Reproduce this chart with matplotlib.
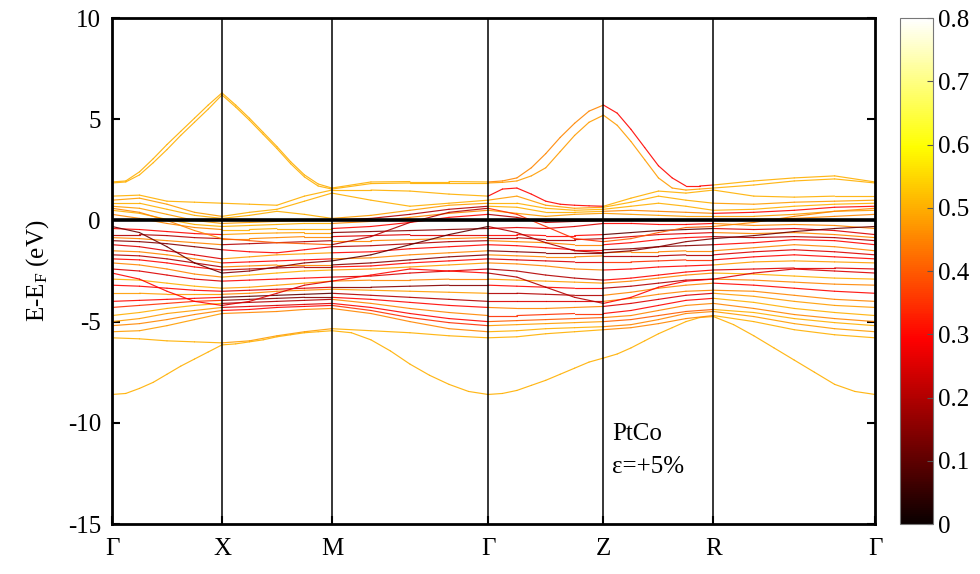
import numpy as np
import matplotlib
matplotlib.use("Agg")
import matplotlib.pyplot as plt
from matplotlib.collections import LineCollection
from matplotlib.colors import Normalize

plt.rcParams['font.family'] = ['Liberation Serif', 'DejaVu Serif']
plt.rcParams['mathtext.fontset'] = 'custom'
plt.rcParams['mathtext.rm'] = 'Liberation Serif'
plt.rcParams['mathtext.it'] = 'Liberation Serif:italic'
plt.rcParams['axes.unicode_minus'] = False

# high-symmetry path (cumulative path length) and labels
kpoint_pos = [0.0, 1.0, 2.0, 3.42, 4.47, 5.47, 6.94]
kpoint_labels = ['Γ', 'X', 'M', 'Γ', 'Z', 'R', 'Γ']

# band energies (eV, relative to E_F) sampled along each path segment
gamma_x = [
    [-8.6, -8.55, -8.3, -8.0, -7.6, -7.2, -6.85, -6.5, -6.15],
    [-5.8, -5.85, -5.95, -6.0, -6.05],
    [-5.5, -5.45, -5.2, -4.9, -4.6],
    [-5.2, -5.1, -4.9, -4.65, -4.45],
    [-5.0, -4.85, -4.6, -4.45, -4.3],
    [-4.7, -4.55, -4.35, -4.2, -4.1],
    [-4.3, -4.2, -4.1, -4.0, -3.95],
    [-4.0, -3.95, -3.9, -3.85, -3.8],
    [-3.6, -3.6, -3.65, -3.65, -3.65],
    [-3.2, -3.25, -3.35, -3.45, -3.5],
    [-2.9, -2.95, -3.1, -3.25, -3.35],
    [-2.4, -2.5, -2.7, -2.9, -3.0],
    [-2.1, -2.2, -2.4, -2.65, -2.8],
    [-1.9, -1.95, -2.1, -2.3, -2.45],
    [-1.7, -1.75, -1.9, -2.1, -2.3],
    [-1.5, -1.55, -1.7, -1.9, -2.1],
    [-1.2, -1.3, -1.5, -1.7, -1.9],
    [-1.0, -1.05, -1.15, -1.3, -1.45],
    [-0.85, -0.9, -1.0, -1.1, -1.2],
    [-0.7, -0.7, -0.75, -0.85, -0.9],
    [-0.4, -0.45, -0.55, -0.65, -0.7],
    [0.3, 0.1, -0.15, -0.35, -0.45],
    [0.5, 0.35, 0.05, -0.2, -0.3],
    [0.7, 0.6, 0.3, 0.0, -0.15],
    [0.85, 0.85, 0.55, 0.25, 0.1],
    [1.0, 1.1, 0.8, 0.4, 0.2],
    [1.2, 1.25, 0.95, 0.9, 0.85],
    [1.85, 1.9, 2.25, 2.85, 3.5, 4.2, 4.85, 5.5, 6.2],
    [1.9, 1.95, 2.4, 3.05, 3.75, 4.4, 5.05, 5.7, 6.3],
    [-0.3, -0.6, -1.3, -2.1, -2.6],
    [-2.6, -2.9, -3.5, -4.0, -4.2],
    [0.6, 0.4, 0.0, -0.5, -0.9],
]
x_m = [
    [-6.15, -6.1, -6.0, -5.9, -5.75, -5.65, -5.55, -5.5, -5.45],
    [-6.05, -5.95, -5.7, -5.5, -5.35],
    [-4.6, -4.55, -4.5, -4.4, -4.35],
    [-4.45, -4.4, -4.3, -4.25, -4.2],
    [-4.3, -4.25, -4.2, -4.15, -4.1],
    [-4.1, -4.05, -4.0, -3.95, -3.9],
    [-3.95, -3.9, -3.85, -3.8, -3.8],
    [-3.8, -3.75, -3.7, -3.65, -3.6],
    [-3.65, -3.6, -3.5, -3.45, -3.4],
    [-3.5, -3.45, -3.4, -3.35, -3.3],
    [-3.35, -3.3, -3.2, -3.1, -3.0],
    [-3.0, -2.95, -2.9, -2.85, -2.8],
    [-2.8, -2.7, -2.6, -2.5, -2.45],
    [-2.45, -2.4, -2.35, -2.3, -2.3],
    [-2.3, -2.25, -2.2, -2.2, -2.2],
    [-2.1, -2.05, -2.0, -1.95, -1.9],
    [-1.9, -1.8, -1.7, -1.65, -1.6],
    [-1.45, -1.55, -1.6, -1.45, -1.3],
    [-1.2, -1.15, -1.1, -1.05, -1.0],
    [-0.9, -0.9, -0.85, -0.8, -0.8],
    [-0.7, -0.65, -0.62, -0.6, -0.6],
    [-0.45, -0.45, -0.4, -0.4, -0.4],
    [-0.3, -0.25, -0.2, -0.15, -0.15],
    [-0.15, -0.1, -0.05, 0.0, 0.0],
    [0.1, 0.25, 0.45, 0.3, 0.1],
    [0.2, 0.4, 0.55, 0.95, 1.35],
    [0.85, 0.8, 0.75, 1.2, 1.5],
    [6.2, 5.6, 4.95, 4.25, 3.55, 2.8, 2.15, 1.7, 1.55],
    [6.3, 5.7, 5.05, 4.35, 3.65, 2.9, 2.25, 1.8, 1.6],
    [-2.6, -2.5, -2.3, -2.1, -2.0],
    [-4.2, -4.0, -3.6, -3.2, -3.0],
    [-0.9, -1.0, -1.1, -1.15, -1.2],
]
m_gamma = [
    [-5.45, -5.55, -5.9, -6.45, -7.1, -7.65, -8.1, -8.45, -8.6],
    [-5.35, -5.45, -5.55, -5.7, -5.8],
    [-4.35, -4.6, -5.0, -5.35, -5.5],
    [-4.2, -4.45, -4.8, -5.05, -5.2],
    [-4.1, -4.3, -4.6, -4.85, -5.0],
    [-3.9, -4.1, -4.35, -4.55, -4.7],
    [-3.8, -3.9, -4.05, -4.2, -4.3],
    [-3.6, -3.7, -3.8, -3.9, -4.0],
    [-3.4, -3.45, -3.5, -3.55, -3.6],
    [-3.3, -3.3, -3.25, -3.2, -3.2],
    [-3.0, -2.95, -2.95, -2.9, -2.9],
    [-2.8, -2.75, -2.6, -2.5, -2.4],
    [-2.45, -2.4, -2.3, -2.2, -2.1],
    [-2.3, -2.25, -2.1, -2.0, -1.9],
    [-2.2, -2.1, -1.95, -1.8, -1.7],
    [-1.9, -1.85, -1.7, -1.6, -1.5],
    [-1.6, -1.55, -1.4, -1.3, -1.2],
    [-1.3, -1.25, -1.15, -1.05, -1.0],
    [-1.0, -1.0, -0.95, -0.9, -0.85],
    [-0.8, -0.75, -0.7, -0.7, -0.7],
    [-0.6, -0.55, -0.5, -0.45, -0.4],
    [-0.4, -0.3, -0.1, 0.15, 0.3],
    [-0.15, -0.05, 0.15, 0.35, 0.5],
    [0.0, 0.1, 0.3, 0.55, 0.7],
    [0.1, 0.25, 0.5, 0.75, 0.85],
    [1.35, 1.0, 0.7, 0.85, 1.0],
    [1.5, 1.5, 1.45, 1.3, 1.2],
    [1.55, 1.82, 1.85, 1.85, 1.85],
    [1.6, 1.9, 1.92, 1.92, 1.9],
    [-2.0, -1.7, -1.2, -0.7, -0.3],
    [-3.0, -2.7, -2.4, -2.5, -2.6],
    [-1.2, -0.8, -0.1, 0.4, 0.6],
]
gamma_z = [
    [-8.6, -8.55, -8.4, -8.15, -7.9, -7.6, -7.3, -7.0, -6.8],
    [-5.8, -5.75, -5.6, -5.5, -5.4],
    [-5.5, -5.45, -5.35, -5.3, -5.25],
    [-5.2, -5.15, -5.1, -5.05, -5.0],
    [-5.0, -4.95, -4.9, -4.85, -4.8],
    [-4.7, -4.7, -4.65, -4.6, -4.6],
    [-4.3, -4.35, -4.35, -4.3, -4.25],
    [-4.0, -4.0, -4.0, -4.0, -4.0],
    [-3.6, -3.6, -3.65, -3.7, -3.7],
    [-3.2, -3.25, -3.3, -3.35, -3.35],
    [-2.9, -2.95, -3.0, -3.05, -3.1],
    [-2.4, -2.5, -2.7, -2.85, -2.95],
    [-2.1, -2.15, -2.25, -2.4, -2.45],
    [-1.9, -1.95, -2.0, -2.05, -2.05],
    [-1.7, -1.75, -1.8, -1.8, -1.75],
    [-1.5, -1.55, -1.6, -1.6, -1.6],
    [-1.2, -1.25, -1.35, -1.45, -1.45],
    [-1.0, -1.05, -1.1, -1.2, -1.2],
    [-0.85, -0.85, -0.95, -0.95, -0.9],
    [-0.7, -0.7, -0.75, -0.75, -0.7],
    [-0.4, -0.35, -0.4, -0.3, -0.15],
    [0.3, 0.15, -0.1, -0.05, 0.0],
    [0.5, 0.35, 0.2, 0.3, 0.35],
    [0.7, 0.65, 0.4, 0.4, 0.45],
    [0.85, 0.85, 0.6, 0.5, 0.55],
    [1.0, 1.2, 0.75, 0.6, 0.65],
    [1.2, 1.55, 1.6, 1.3, 0.95, 0.8, 0.75, 0.72, 0.7],
    [1.85, 1.88, 1.95, 2.2, 2.6, 3.4, 4.2, 4.85, 5.2],
    [1.9, 1.95, 2.1, 2.6, 3.3, 4.1, 4.8, 5.4, 5.7],
    [-0.3, -0.6, -1.1, -1.5, -1.6],
    [-2.6, -2.8, -3.3, -3.8, -4.1],
    [0.6, 0.3, -0.3, -0.9, -1.05],
]
z_r = [
    [-6.8, -6.6, -6.3, -5.95, -5.6, -5.3, -5.0, -4.8, -4.75],
    [-5.4, -5.3, -5.1, -4.85, -4.7],
    [-5.25, -5.15, -4.9, -4.6, -4.5],
    [-5.0, -4.9, -4.7, -4.5, -4.4],
    [-4.8, -4.7, -4.45, -4.2, -4.1],
    [-4.6, -4.45, -4.2, -3.95, -3.85],
    [-4.25, -4.1, -3.9, -3.7, -3.6],
    [-4.0, -3.85, -3.65, -3.5, -3.45],
    [-3.7, -3.55, -3.35, -3.2, -3.1],
    [-3.35, -3.25, -3.1, -2.95, -2.9],
    [-3.1, -3.0, -2.85, -2.7, -2.6],
    [-2.95, -2.85, -2.7, -2.55, -2.45],
    [-2.45, -2.4, -2.3, -2.25, -2.2],
    [-2.05, -2.05, -2.0, -1.95, -1.95],
    [-1.75, -1.75, -1.75, -1.7, -1.7],
    [-1.6, -1.55, -1.55, -1.5, -1.5],
    [-1.45, -1.4, -1.3, -1.25, -1.2],
    [-1.2, -1.1, -0.95, -0.85, -0.8],
    [-0.9, -0.8, -0.7, -0.65, -0.6],
    [-0.7, -0.6, -0.5, -0.45, -0.4],
    [-0.15, -0.15, -0.2, -0.2, -0.15],
    [0.0, 0.0, 0.0, 0.0, 0.0],
    [0.35, 0.3, 0.25, 0.2, 0.2],
    [0.45, 0.5, 0.45, 0.4, 0.35],
    [0.55, 0.7, 0.85, 0.7, 0.5],
    [0.65, 0.9, 1.2, 1.0, 0.85],
    [0.7, 1.1, 1.45, 1.35, 1.5],
    [5.2, 4.7, 3.9, 3.0, 2.1, 1.6, 1.5, 1.55, 1.6],
    [5.7, 5.3, 4.5, 3.6, 2.7, 2.1, 1.7, 1.7, 1.75],
    [-1.6, -1.5, -1.3, -1.05, -0.9],
    [-4.1, -3.8, -3.3, -3.0, -2.9],
    [-1.05, -0.9, -0.6, -0.35, -0.3],
]
r_gamma = [
    [-4.75, -5.15, -5.7, -6.3, -6.9, -7.5, -8.1, -8.45, -8.6],
    [-4.7, -5.0, -5.4, -5.65, -5.8],
    [-4.5, -4.75, -5.1, -5.35, -5.5],
    [-4.4, -4.55, -4.85, -5.05, -5.2],
    [-4.1, -4.35, -4.65, -4.85, -5.0],
    [-3.85, -4.05, -4.35, -4.55, -4.7],
    [-3.6, -3.75, -4.0, -4.2, -4.3],
    [-3.45, -3.5, -3.7, -3.9, -4.0],
    [-3.1, -3.2, -3.35, -3.5, -3.6],
    [-2.9, -2.95, -3.05, -3.15, -3.2],
    [-2.6, -2.65, -2.75, -2.85, -2.9],
    [-2.45, -2.4, -2.35, -2.35, -2.4],
    [-2.2, -2.05, -2.0, -2.05, -2.1],
    [-1.95, -1.8, -1.7, -1.8, -1.9],
    [-1.7, -1.55, -1.45, -1.55, -1.7],
    [-1.5, -1.35, -1.2, -1.3, -1.5],
    [-1.2, -1.1, -0.95, -1.0, -1.2],
    [-0.8, -0.85, -0.8, -0.85, -1.0],
    [-0.6, -0.65, -0.6, -0.7, -0.85],
    [-0.4, -0.45, -0.4, -0.5, -0.7],
    [-0.15, -0.25, -0.2, -0.25, -0.4],
    [0.0, 0.05, 0.1, 0.2, 0.3],
    [0.2, 0.2, 0.3, 0.45, 0.5],
    [0.35, 0.4, 0.5, 0.65, 0.7],
    [0.5, 0.55, 0.7, 0.8, 0.85],
    [0.85, 0.8, 0.9, 0.95, 1.0],
    [1.5, 1.2, 1.15, 1.2, 1.2],
    [1.6, 1.75, 1.95, 2.05, 1.85],
    [1.75, 1.95, 2.1, 2.2, 1.9],
    [-0.9, -0.75, -0.55, -0.4, -0.3],
    [-2.9, -2.6, -2.4, -2.5, -2.6],
    [-0.3, -0.1, 0.2, 0.45, 0.6],
]

# projected weight of each band on each segment (G-X, X-M, M-G, G-Z, Z-R, R-G)
weights = [
    [0.5, 0.5, 0.5, 0.5, 0.5, 0.5],
    [0.5, 0.48, 0.5, 0.5, 0.45, 0.5],
    [0.48, 0.45, 0.45, 0.5, 0.45, 0.48],
    [0.45, 0.3, 0.35, 0.48, 0.4, 0.5],
    [0.48, 0.25, 0.3, 0.4, 0.45, 0.45],
    [0.5, 0.2, 0.45, 0.35, 0.3, 0.5],
    [0.35, 0.15, 0.3, 0.45, 0.25, 0.48],
    [0.3, 0.1, 0.2, 0.25, 0.45, 0.45],
    [0.48, 0.45, 0.48, 0.2, 0.45, 0.3],
    [0.3, 0.25, 0.15, 0.3, 0.2, 0.45],
    [0.5, 0.48, 0.45, 0.48, 0.45, 0.5],
    [0.25, 0.3, 0.25, 0.2, 0.3, 0.25],
    [0.45, 0.5, 0.48, 0.45, 0.3, 0.48],
    [0.3, 0.2, 0.3, 0.25, 0.35, 0.3],
    [0.2, 0.45, 0.15, 0.45, 0.2, 0.25],
    [0.45, 0.3, 0.45, 0.15, 0.45, 0.45],
    [0.25, 0.48, 0.3, 0.3, 0.15, 0.3],
    [0.15, 0.3, 0.2, 0.45, 0.3, 0.2],
    [0.45, 0.2, 0.45, 0.2, 0.25, 0.45],
    [0.2, 0.45, 0.25, 0.3, 0.1, 0.25],
    [0.3, 0.48, 0.15, 0.25, 0.3, 0.45],
    [0.45, 0.5, 0.3, 0.2, 0.4, 0.45],
    [0.5, 0.5, 0.45, 0.48, 0.48, 0.48],
    [0.48, 0.48, 0.2, 0.5, 0.45, 0.3],
    [0.5, 0.5, 0.48, 0.5, 0.5, 0.5],
    [0.48, 0.5, 0.5, 0.48, 0.5, 0.48],
    [0.5, 0.5, 0.5, 0.3, 0.5, 0.5],
    [0.5, 0.5, 0.5, 0.48, 0.48, 0.5],
    [0.5, 0.5, 0.5, 0.45, 0.3, 0.5],
    [0.12, 0.15, 0.1, 0.2, 0.15, 0.12],
    [0.3, 0.25, 0.3, 0.2, 0.3, 0.25],
    [0.45, 0.4, 0.2, 0.35, 0.4, 0.45],
]

segments = [gamma_x, x_m, m_gamma, gamma_z, z_r, r_gamma]
n_bands = len(gamma_x)
cmap = plt.get_cmap('hot')
norm = Normalize(vmin=0, vmax=0.8)

fig = plt.figure(figsize=(9.8, 5.74), dpi=100)
ax = fig.add_axes([0.1143, 0.0871, 0.7786, 0.8815])
cax = fig.add_axes([0.9184, 0.0871, 0.0337, 0.8815])

for b in range(n_bands):
    pieces = []
    cvals = []
    for s, seg in enumerate(segments):
        e = np.array(seg[b])
        k = np.linspace(kpoint_pos[s], kpoint_pos[s + 1], len(e))
        pts = np.column_stack([k, e])
        for i in range(len(e) - 1):
            pieces.append(pts[i:i + 2])
            cvals.append(weights[b][s])
    lc = LineCollection(pieces, cmap=cmap, norm=norm, linewidths=0.85,
                        alpha=0.9, capstyle='round', joinstyle='round')
    lc.set_array(np.array(cvals))
    ax.add_collection(lc)

for kp in kpoint_pos[1:-1]:
    ax.axvline(kp, color='black', lw=1.1, zorder=3)
ax.axhline(0, color='black', lw=2.6, zorder=4)

ax.set_xlim(kpoint_pos[0], kpoint_pos[-1])
ax.set_ylim(-15, 10)
ax.set_xticks(kpoint_pos)
ax.set_xticklabels(kpoint_labels)
ax.set_yticks([-15, -10, -5, 0, 5, 10])
ax.tick_params(axis='both', direction='in', labelsize=18, width=1.5, length=6,
               right=True, top=False)
ax.tick_params(axis='x', pad=10)
ax.tick_params(axis='y', pad=8)
ax.set_ylabel(r'E-E$_{\rm F}$ (eV)', fontsize=18, labelpad=12)
for sp in ax.spines.values():
    sp.set_linewidth(2)

ax.text(0.655, 0.178, 'PtCo', transform=ax.transAxes, fontsize=18, va='center')
ax.text(0.655, 0.112, 'ε=+5%', transform=ax.transAxes, fontsize=18, va='center')

cb = fig.colorbar(plt.cm.ScalarMappable(norm=norm, cmap=cmap), cax=cax)
cb.set_ticks([0, 0.1, 0.2, 0.3, 0.4, 0.5, 0.6, 0.7, 0.8])
cb.set_ticklabels(['0', '0.1', '0.2', '0.3', '0.4', '0.5', '0.6', '0.7', '0.8'])
cb.ax.tick_params(labelsize=18, direction='in', length=4, width=0.8, color='#555555')
cb.outline.set_linewidth(0.8)
cb.outline.set_edgecolor('#777777')

fig.savefig('out.png', dpi=100)
